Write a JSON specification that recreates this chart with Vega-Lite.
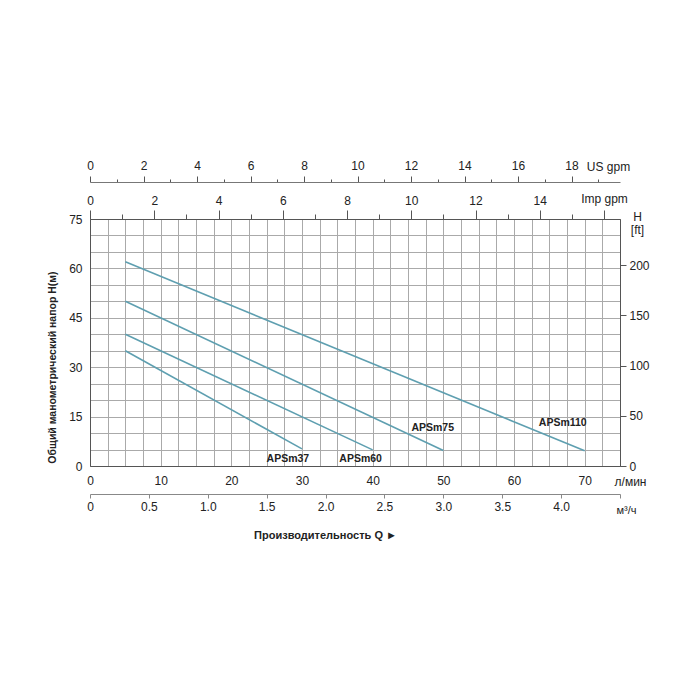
{
  "$schema": "https://vega.github.io/schema/vega-lite/v6.json",
  "width": 530,
  "height": 247,
  "autosize": {"type": "none"},
  "padding": {"left": 90, "top": 219, "right": 80, "bottom": 234},
  "background": "white",
  "config": {
    "font": "Liberation Sans",
    "view": {"stroke": "#555"},
    "axis": {"labelFont": "Liberation Sans", "titleFont": "Liberation Sans", "labelColor": "#222", "titleColor": "#222", "labelFontSize": 12, "domainColor": "#555", "tickColor": "#555", "gridColor": "#aaa", "gridOpacity": 1, "labelFlush": false, "labelOverlap": false}
  },
  "datasets": {
    "curves": [
      {"model": "APSm37", "q": 5, "h": 35},
      {"model": "APSm37", "q": 30, "h": 5.2},
      {"model": "APSm60", "q": 5, "h": 40},
      {"model": "APSm60", "q": 40, "h": 4.9},
      {"model": "APSm75", "q": 5, "h": 50},
      {"model": "APSm75", "q": 50, "h": 4.7},
      {"model": "APSm110", "q": 5, "h": 62},
      {"model": "APSm110", "q": 70, "h": 4.6}
    ],
    "labels": [
      {"model": "APSm37", "q": 28, "h": 2.1},
      {"model": "APSm60", "q": 38.3, "h": 2.1},
      {"model": "APSm75", "q": 48.5, "h": 11.6},
      {"model": "APSm110", "q": 66.9, "h": 13.1}
    ],
    "one": [{"k": 1}]
  },
  "layer": [
    {
      "data": {"name": "curves"},
      "mark": {"type": "line", "color": "#5e9fb0", "strokeWidth": 1.6},
      "encoding": {
        "x": {"field": "q", "type": "quantitative", "scale": {"domain": [0, 75], "nice": false, "zero": false},
          "axis": {"orient": "bottom", "values": [0,2.5,5,7.5,10,12.5,15,17.5,20,22.5,25,27.5,30,32.5,35,37.5,40,42.5,45,47.5,50,52.5,55,57.5,60,62.5,65,67.5,70,72.5,75],
            "labelExpr": "datum.value % 10 === 0 && datum.value <= 70 ? datum.label : ''", "tickSize": 0, "labelPadding": 9, "grid": true,
            "title": "л/мин", "titleFontWeight": "normal", "titleFontSize": 12, "titleX": 540, "titleY": 15, "titleAlign": "center", "titleBaseline": "middle"}},
        "y": {"field": "h", "type": "quantitative", "scale": {"domain": [0, 75], "nice": false, "zero": false},
          "axis": {"orient": "left", "values": [0,5,10,15,20,25,30,35,40,45,50,55,60,65,70,75],
            "labelExpr": "datum.value % 15 === 0 ? datum.label : ''", "tickSize": 0, "labelPadding": 8, "grid": true,
            "title": "Общий манометрический напор H(м)", "titleFontWeight": "bold", "titleFontSize": 10.5, "titleX": -38, "titleY": 148, "titleAlign": "center", "titleBaseline": "middle", "titleAngle": -90}},
        "detail": {"field": "model"}
      }
    },
    {
      "data": {"name": "labels"},
      "mark": {"type": "text", "fontWeight": "bold", "fontSize": 10.5, "color": "#222", "font": "Liberation Sans"},
      "encoding": {
        "x": {"field": "q", "type": "quantitative", "scale": {"domain": [0, 75], "nice": false, "zero": false}, "axis": null},
        "y": {"field": "h", "type": "quantitative", "scale": {"domain": [0, 75], "nice": false, "zero": false}, "axis": null},
        "text": {"field": "model"}
      }
    },
    {
      "data": {"name": "one"},
      "mark": {"type": "point", "opacity": 0},
      "encoding": {
        "x": {"datum": 0, "type": "quantitative", "scale": {"domain": [0, 4.5], "nice": false, "zero": false},
          "axis": {"orient": "bottom", "offset": 28, "values": [0,0.5,1,1.5,2,2.5,3,3.5,4,4.5],
            "labelExpr": "datum.value === 0 ? '0' : (datum.value > 4.2 ? '' : format(datum.value, '.1f'))", "tickSize": 4, "labelPadding": 3, "grid": false, "domainColor": "#888", "tickColor": "#888",
            "title": "м³/ч", "titleFontWeight": "normal", "titleFontSize": 11, "titleX": 536, "titleY": 16, "titleAlign": "center", "titleBaseline": "middle"}},
        "y": {"datum": 0, "type": "quantitative", "scale": {"domain": [0, 246.063], "nice": false, "zero": false},
          "axis": {"orient": "right", "values": [0, 50, 100, 150, 200], "tickSize": 6, "labelPadding": 3, "grid": false,
            "title": ["H", "[ft]"], "titleFontWeight": "normal", "titleFontSize": 12, "titleLineHeight": 13, "titleAngle": 0, "titleX": 17, "titleY": -3, "titleAlign": "center", "titleBaseline": "middle"}}
      }
    },
    {
      "data": {"name": "one"},
      "mark": {"type": "point", "opacity": 0},
      "encoding": {
        "x": {"datum": 0, "type": "quantitative", "scale": {"domain": [0, 19.8129], "nice": false, "zero": false},
          "axis": {"orient": "top", "offset": 37, "values": [0,1,2,3,4,5,6,7,8,9,10,11,12,13,14,15,16,17,18,19],
            "labelExpr": "datum.value % 2 === 0 ? datum.label : ''",
            "tickSize": {"condition": {"test": "datum.value % 2 === 0", "value": 6}, "value": 3},
            "labelPadding": 4, "grid": false, "domainColor": "#777",
            "title": "US gpm", "titleFontWeight": "normal", "titleFontSize": 12, "titleX": 518, "titleY": -16, "titleAlign": "center", "titleBaseline": "middle"}},
        "y": {"datum": 0, "type": "quantitative", "scale": {"domain": [0, 75], "nice": false, "zero": false}, "axis": null}
      }
    },
    {
      "data": {"name": "one"},
      "mark": {"type": "point", "opacity": 0},
      "encoding": {
        "x": {"datum": 0, "type": "quantitative", "scale": {"domain": [0, 16.4977], "nice": false, "zero": false},
          "axis": {"orient": "top", "values": [0,1,2,3,4,5,6,7,8,9,10,11,12,13,14,15,16],
            "labelExpr": "datum.value % 2 === 0 && datum.value < 16 ? datum.label : ''",
            "tickSize": {"condition": {"test": "datum.value % 2 === 0", "value": 9}, "value": 5},
            "labelPadding": 3, "grid": false,
            "title": "Imp gpm", "titleFontWeight": "normal", "titleFontSize": 12, "titleX": 514, "titleY": -21, "titleAlign": "center", "titleBaseline": "middle"}},
        "y": {"datum": 0, "type": "quantitative", "scale": {"domain": [0, 75], "nice": false, "zero": false}, "axis": null}
      }
    },
    {
      "data": {"name": "one"},
      "mark": {"type": "point", "opacity": 0},
      "encoding": {
        "x": {"datum": 0, "type": "quantitative", "scale": {"domain": [0, 75], "nice": false, "zero": false},
          "axis": {"orient": "bottom", "offset": 28, "domain": false, "ticks": false, "labels": false, "grid": false,
            "title": "Производительность Q  ►", "titleFontWeight": "bold", "titleFontSize": 11, "titleX": 235, "titleY": 41, "titleAlign": "center", "titleBaseline": "middle"}},
        "y": {"datum": 0, "type": "quantitative", "scale": {"domain": [0, 75], "nice": false, "zero": false}, "axis": null}
      }
    }
  ],
  "resolve": {"scale": {"x": "independent", "y": "independent"}}
}
